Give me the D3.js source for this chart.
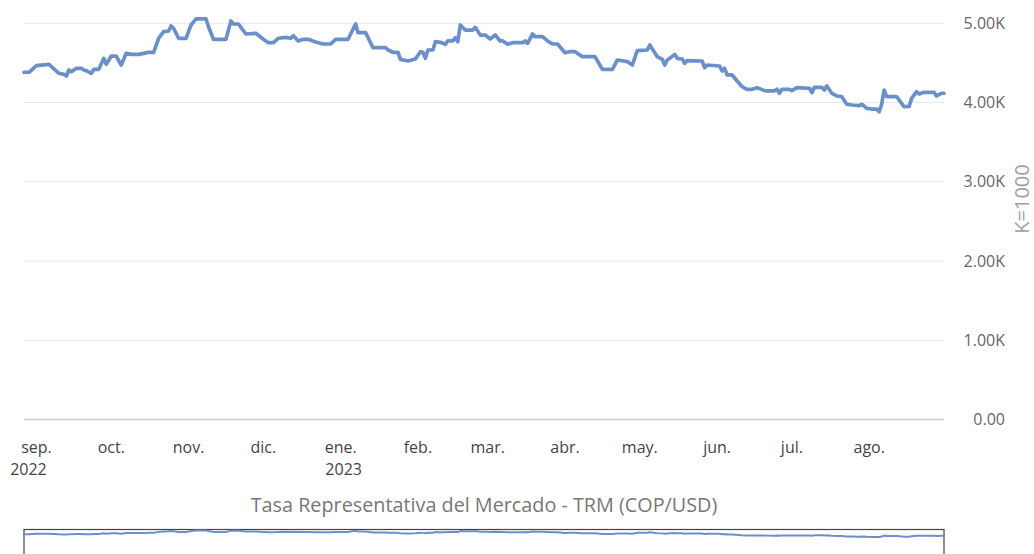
<!DOCTYPE html>
<html>
<head>
<meta charset="utf-8">
<script src="https://cdn.jsdelivr.net/npm/d3@7"></script>
<style>
  html, body { margin: 0; padding: 0; background: #ffffff; }
  svg { display: block; }
  text { font-family: "Open Sans", "Noto Sans", sans-serif; }
</style>
</head>
<body>
<svg id="chart" width="1034" height="554"></svg>
<script>
// ---------- DATA ----------
const dates = [
  "2022-08-27","2022-08-29","2022-09-01","2022-09-06","2022-09-10","2022-09-12","2022-09-13","2022-09-14",
  "2022-09-15","2022-09-17","2022-09-19","2022-09-20","2022-09-21","2022-09-23","2022-09-24","2022-09-26",
  "2022-09-28","2022-09-29","2022-10-01","2022-10-03","2022-10-05","2022-10-07","2022-10-09","2022-10-12",
  "2022-10-14","2022-10-16","2022-10-18","2022-10-20","2022-10-22","2022-10-24","2022-10-25","2022-10-26",
  "2022-10-28","2022-10-31","2022-11-02","2022-11-04","2022-11-08","2022-11-09","2022-11-11","2022-11-16",
  "2022-11-18","2022-11-19","2022-11-21","2022-11-24","2022-11-28","2022-12-01","2022-12-03","2022-12-05",
  "2022-12-07","2022-12-10","2022-12-12","2022-12-13","2022-12-15","2022-12-17","2022-12-19","2022-12-22",
  "2022-12-25","2022-12-28","2022-12-30","2023-01-04","2023-01-05","2023-01-07","2023-01-08","2023-01-11",
  "2023-01-14","2023-01-19","2023-01-20","2023-01-22","2023-01-24","2023-01-25","2023-01-28","2023-01-31",
  "2023-02-02","2023-02-03","2023-02-04","2023-02-05","2023-02-07","2023-02-08","2023-02-10","2023-02-12",
  "2023-02-13","2023-02-15","2023-02-16","2023-02-17","2023-02-18","2023-02-20","2023-02-23","2023-02-24",
  "2023-02-26","2023-02-28","2023-03-02","2023-03-04","2023-03-06","2023-03-07","2023-03-09","2023-03-11",
  "2023-03-15","2023-03-16","2023-03-17","2023-03-19","2023-03-20","2023-03-23","2023-03-25","2023-03-27",
  "2023-03-29","2023-04-01","2023-04-03","2023-04-05","2023-04-08","2023-04-13","2023-04-16","2023-04-20",
  "2023-04-22","2023-04-26","2023-04-28","2023-04-30","2023-05-04","2023-05-05","2023-05-08","2023-05-10",
  "2023-05-11","2023-05-12","2023-05-13","2023-05-15","2023-05-16","2023-05-18","2023-05-19","2023-05-20",
  "2023-05-26","2023-05-27","2023-05-28","2023-06-02","2023-06-03","2023-06-04","2023-06-05","2023-06-07",
  "2023-06-11","2023-06-13","2023-06-15","2023-06-17","2023-06-20","2023-06-21","2023-06-24","2023-06-25",
  "2023-06-26","2023-06-27","2023-06-30","2023-07-01","2023-07-03","2023-07-08","2023-07-09","2023-07-10",
  "2023-07-13","2023-07-14","2023-07-15","2023-07-17","2023-07-19","2023-07-21","2023-07-23","2023-07-25",
  "2023-07-28","2023-07-29","2023-07-31","2023-08-02","2023-08-04","2023-08-05","2023-08-06","2023-08-07",
  "2023-08-08","2023-08-12","2023-08-15","2023-08-17","2023-08-18","2023-08-20","2023-08-21","2023-08-23",
  "2023-08-27","2023-08-28","2023-08-30","2023-08-31"
];
const trm = [
  4382,4382,4465,4482,4369,4356,4335,4411,
  4389,4432,4432,4411,4402,4369,4419,4419,
  4558,4482,4587,4587,4474,4621,4608,4608,
  4621,4634,4634,4811,4894,4903,4966,4937,
  4811,4811,4979,5055,5055,4957,4798,4798,
  5029,4991,4991,4865,4874,4798,4755,4755,
  4811,4823,4811,4844,4777,4798,4798,4764,
  4739,4739,4798,4798,4865,4991,4882,4882,
  4692,4692,4663,4634,4634,4545,4524,4549,
  4642,4634,4558,4663,4663,4768,4760,4735,
  4777,4777,4819,4768,4979,4915,4915,4949,
  4852,4852,4802,4852,4777,4777,4735,4755,
  4755,4777,4748,4865,4832,4832,4777,4739,
  4739,4629,4642,4642,4579,4579,4419,4419,
  4537,4516,4474,4654,4663,4726,4579,4545,
  4474,4537,4558,4608,4558,4549,4495,4529,
  4524,4440,4474,4461,4398,4432,4348,4348,
  4200,4167,4167,4188,4150,4146,4146,4167,
  4117,4167,4167,4150,4188,4180,4125,4192,
  4192,4158,4209,4117,4083,4074,3978,3969,
  3960,3978,3927,3918,3918,3884,3978,4158,
  4074,4074,3947,3952,4053,4137,4108,4129,
  4129,4083,4117,4117
];
const yTicks = [0, 1000, 2000, 3000, 4000, 5000];
const yTickLabels = ["0.00", "1.00K", "2.00K", "3.00K", "4.00K", "5.00K"];
const monthTicks = ["2022-09-01","2022-10-01","2022-11-01","2022-12-01","2023-01-01","2023-02-01",
                    "2023-03-01","2023-04-01","2023-05-01","2023-06-01","2023-07-01","2023-08-01"];
const monthLabels = ["sep.","oct.","nov.","dic.","ene.","feb.","mar.","abr.","may.","jun.","jul.","ago."];
const yearLabels  = ["2022","","","","2023","","","","","","",""];
const chartTitle = "Tasa Representativa del Mercado - TRM (COP/USD)";
const axisTitle = "K=1000";

// ---------- DRAW ----------
const parse = d3.utcParse("%Y-%m-%d");
const data = dates.map((d, i) => ({ date: parse(d), value: trm[i] }));

const svg = d3.select("#chart");
const xLeft = 24, xRight = 944;

const x = d3.scaleUtc()
  .domain(d3.extent(data, d => d.date))
  .range([xLeft, xRight]);

const y = d3.scaleLinear()
  .domain([0, 5000])
  .range([419.5, 23.3]);

// gridlines
svg.append("g")
  .selectAll("line")
  .data(yTicks.filter(t => t > 0))
  .join("line")
  .attr("x1", xLeft).attr("x2", xRight)
  .attr("y1", d => y(d)).attr("y2", d => y(d))
  .attr("stroke", "#e8e8e8")
  .attr("stroke-width", 1);

// baseline
svg.append("line")
  .attr("x1", xLeft).attr("x2", xRight)
  .attr("y1", y(0)).attr("y2", y(0))
  .attr("stroke", "#c8c8c8")
  .attr("stroke-width", 1.5);

// y axis (right)
const yAxis = d3.axisRight(y)
  .tickValues(yTicks)
  .tickFormat((d, i) => yTickLabels[i])
  .tickSize(0);
const gy = svg.append("g")
  .attr("transform", "translate(1005,0)")
  .call(yAxis);
gy.select(".domain").remove();
gy.selectAll("text")
  .attr("x", 0)
  .attr("text-anchor", "end")
  .attr("fill", "#666666")
  .style("font-size", "16px");

// axis title
svg.append("text")
  .attr("transform", "translate(1029,199) rotate(-90)")
  .attr("text-anchor", "middle")
  .attr("fill", "#a0a0a0")
  .style("font-size", "20px")
  .text(axisTitle);

// x axis month labels
const mt = monthTicks.map(parse);
const gx = svg.append("g");
gx.selectAll("text.m")
  .data(mt)
  .join("text")
  .attr("class", "m")
  .attr("x", d => x(d))
  .attr("y", 453)
  .attr("text-anchor", "middle")
  .attr("fill", "#444444")
  .style("font-size", "16px")
  .text((d, i) => monthLabels[i]);
gx.selectAll("text.yr")
  .data(mt)
  .join("text")
  .attr("class", "yr")
  .attr("x", (d, i) => x(d) + (i === 0 ? -8 : 3))
  .attr("y", 475)
  .attr("text-anchor", "middle")
  .attr("fill", "#444444")
  .style("font-size", "16px")
  .text((d, i) => yearLabels[i]);

// main line
const line = d3.line()
  .x(d => x(d.date))
  .y(d => y(d.value));
svg.append("path")
  .datum(data)
  .attr("fill", "none")
  .attr("stroke", "#6b8fc9")
  .attr("stroke-width", 3.7)
  .attr("stroke-linejoin", "round")
  .attr("stroke-linecap", "round")
  .attr("d", line);

// title
svg.append("text")
  .attr("x", 484)
  .attr("y", 512)
  .attr("text-anchor", "middle")
  .attr("fill", "#777777")
  .style("font-size", "19.8px")
  .text(chartTitle);

// navigator
const yNav = d3.scaleLinear()
  .domain([0, d3.max(trm)])
  .range([559, 530.5]);
svg.append("rect")
  .attr("x", xLeft).attr("y", 529.5)
  .attr("width", xRight - xLeft).attr("height", 40)
  .attr("fill", "#ffffff")
  .attr("stroke", "#444444")
  .attr("stroke-width", 1.2);
svg.append("path")
  .datum(data)
  .attr("fill", "none")
  .attr("stroke", "#6b8fc9")
  .attr("stroke-width", 2)
  .attr("d", d3.line().x(d => x(d.date)).y(d => yNav(d.value)));
</script>
</body>
</html>
